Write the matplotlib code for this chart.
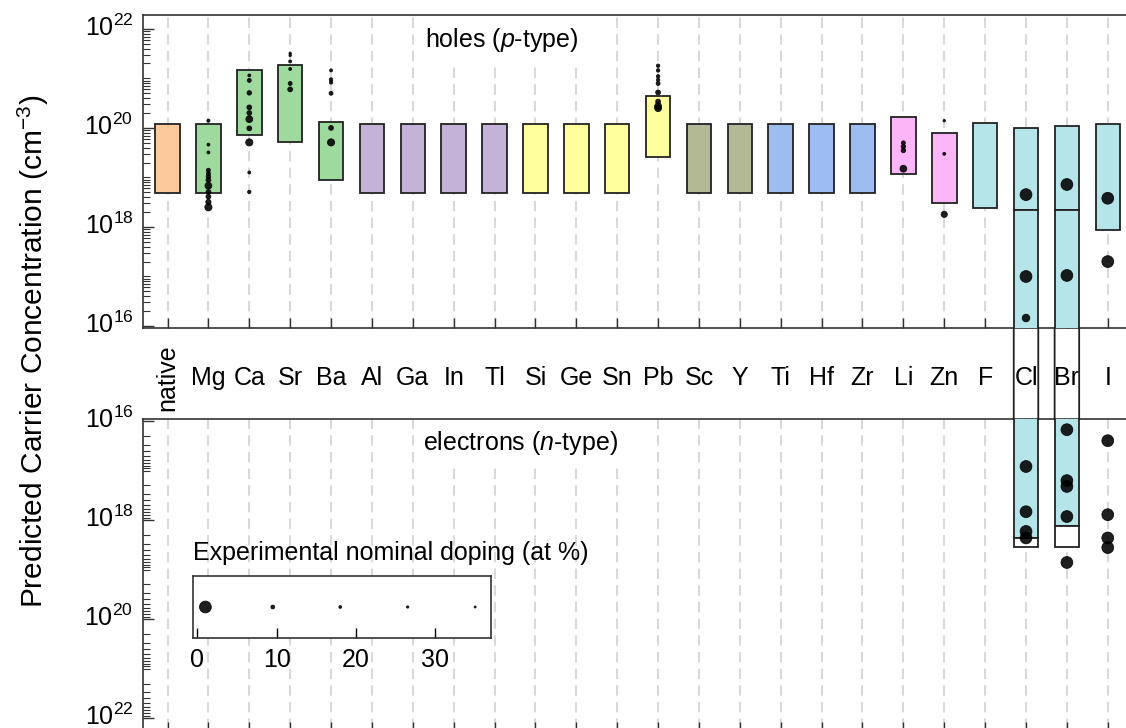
import numpy as np
import matplotlib.pyplot as plt
from matplotlib.patches import ConnectionPatch
from matplotlib.ticker import LogLocator, NullFormatter
from matplotlib.transforms import ScaledTranslation

plt.rcParams['font.family'] = ['Liberation Sans', 'DejaVu Sans']
plt.rcParams['mathtext.fontset'] = 'custom'
plt.rcParams['mathtext.rm'] = 'Liberation Sans'
plt.rcParams['mathtext.it'] = 'Liberation Sans:italic'

# predicted windows (p-type, cm^-3)
dopants = ['native', 'Mg', 'Ca', 'Sr', 'Ba', 'Al', 'Ga', 'In', 'Tl', 'Si', 'Ge', 'Sn',
           'Pb', 'Sc', 'Y', 'Ti', 'Hf', 'Zr', 'Li', 'Zn', 'F', 'Cl', 'Br', 'I']
groups = ['native', 'AE', 'AE', 'AE', 'AE', 'G13', 'G13', 'G13', 'G13', 'G14', 'G14', 'G14',
          'G14', 'G3', 'G3', 'G4', 'G4', 'G4', 'LZ', 'LZ', 'X', 'X', 'X', 'X']
p_low = [4.8e18, 4.8e18, 7.1e19, 5.3e19, 8.7e18, 4.8e18, 4.8e18, 4.8e18, 4.8e18, 4.8e18,
         4.8e18, 4.8e18, 2.6e19, 4.8e18, 4.8e18, 4.8e18, 4.8e18, 4.8e18, 1.2e19, 3.1e18,
         2.4e18, 2.2e18, 2.2e18, 8.5e17]
p_high = [1.2e20, 1.2e20, 1.5e21, 1.9e21, 1.3e20, 1.2e20, 1.2e20, 1.2e20, 1.2e20, 1.2e20,
          1.2e20, 1.2e20, 4.4e20, 1.2e20, 1.2e20, 1.2e20, 1.2e20, 1.2e20, 1.66e20, 7.8e19,
          1.24e20, 9.8e19, 1.07e20, 1.18e20]

# windows that run on into n-type
ambi_dopants = ['Cl', 'Br']
ambi_n_fill = [2.3e18, 1.35e18]
ambi_n_box = [3.5e18, 3.5e18]

# experimental reports
exp_p_dopant = (['Mg'] * 12 + ['Ca'] * 10 + ['Sr'] * 6 + ['Ba'] * 6 + ['Pb'] * 9
                + ['Li'] * 4 + ['Zn'] * 3 + ['Cl'] * 3 + ['Br'] * 2 + ['I'] * 2)
exp_p_conc = [1.4e20, 4.6e19, 3.2e19, 1.4e19, 1.2e19, 1.05e19, 8.9e18, 6.8e18, 5.1e18, 4.1e18, 3.2e18, 2.5e18,
              1.15e21, 9.1e20, 5.1e20, 2.6e20, 2.0e20, 1.5e20, 9.8e19, 5.1e19, 1.26e19, 5.1e18,
              3.2e21, 2.9e21, 2.2e21, 1.55e21, 7.9e20, 6.0e20,
              1.45e21, 9.5e20, 8.3e20, 5.0e20, 1.0e20, 5.1e19,
              1.8e21, 1.45e21, 1.1e21, 9.3e20, 7.9e20, 5.2e20, 3.4e20, 2.75e20, 2.5e20,
              5.0e19, 4.2e19, 3.5e19, 1.5e19,
              1.4e20, 3.0e19, 1.8e18,
              4.5e18, 1.0e17, 1.45e16,
              7.2e18, 1.05e17,
              3.8e18, 2.0e17]
exp_p_doping = [14, 16, 16, 9, 9, 7, 6, 3, 6, 6, 5, 2.7,
                16, 9, 7, 6, 6, 3, 6, 2.7, 16, 12,
                24, 24, 16, 16, 9, 6,
                16, 12, 12, 9, 6, 2.7,
                12, 12, 12, 12, 9, 6, 6, 3, 3,
                9, 7, 7, 3,
                24, 16, 3.6,
                1, 1, 2.4,
                1, 1,
                1, 1]

exp_n_dopant = ['Cl'] * 4 + ['Br'] * 5 + ['I'] * 4
exp_n_conc = [8.3e16, 6.8e17, 1.7e18, 2.3e18,
              1.5e16, 1.6e17, 2.1e17, 8.5e17, 7.2e18,
              2.5e16, 7.8e17, 2.3e18, 3.6e18]
exp_n_doping = [1, 1, 1, 1, 1, 1, 1, 1, 1, 1, 1, 1, 1]

legend_doping = [1, 9.5, 18, 26.5, 35]

group_colors = {'native': '#fbc99b', 'AE': '#9ed99e', 'G13': '#c4b2d8', 'G14': '#ffff9e',
                'G3': '#b3b995', 'G4': '#9dbdf0', 'LZ': '#fcb5f7', 'X': '#b5e4e9'}
EDGE = '#222222'
GRID = '#d9d9d9'
FS = 18
BW = 0.6


def dot_size(doping):
    return 72.0 / np.asarray(doping, dtype=float)


def dots(ax, xs, ys, doping, **kw):
    ax.scatter(xs, ys, s=dot_size(doping), color='black', edgecolors='black',
               alpha=0.88, linewidths=0.6, **kw)


W, H = 1126, 728
fig = plt.figure(figsize=(W / 100, H / 100), dpi=100)
ax_p = fig.add_axes([143 / W, 1 - 328 / H, (1132.3 - 143) / W, 313 / H])
ax_n = fig.add_axes([143 / W, 1 - 732 / H, (1132.3 - 143) / W, 313 / H])

x = np.arange(len(dopants))
colors = [group_colors[g] for g in groups]

for ax in (ax_p, ax_n):
    ax.set_yscale('log')
    ax.set_xlim(-0.6, len(dopants) - 0.4)
    ax.set_yticks([1e16, 1e18, 1e20, 1e22],
                  ['$\\mathregular{10^{16}}$', '$\\mathregular{10^{18}}$',
                   '$\\mathregular{10^{20}}$', '$\\mathregular{10^{22}}$'])
    ax.yaxis.set_minor_locator(LogLocator(base=10, subs=np.arange(1, 10), numticks=100))
    ax.yaxis.set_minor_formatter(NullFormatter())
    ax.tick_params(axis='y', which='major', direction='in', length=8, width=1.0,
                   labelsize=FS, pad=7, color='#333333')
    ax.tick_params(axis='y', which='minor', direction='in', length=5, width=0.8, color='#333333')
    ax.tick_params(axis='x', direction='in', length=7, width=1.0, color='#333333')
    ax.set_xticks(x)
    for s in ax.spines.values():
        s.set_color('#333333')
        s.set_linewidth(1.2)
    ax.spines['right'].set_visible(False)

ax_p.set_ylim(10 ** 15.96, 10 ** 22.28)
ax_n.set_ylim(10 ** 22.28, 10 ** 15.96)

# keep the "10" of each label level with its tick
for ax in (ax_p, ax_n):
    for lab in ax.get_yticklabels():
        lab.set_transform(lab.get_transform() + ScaledTranslation(0, 0.04, fig.dpi_scale_trans))

ax_p.set_xticklabels(dopants, fontsize=FS)
ax_p.tick_params(axis='x', pad=36)
for lab in ax_p.get_xticklabels():
    lab.set_va('center')
    if lab.get_text() == 'native':
        lab.set_rotation(90)
ax_n.set_xticklabels([])

# predicted p-type windows
ax_p.bar(x, np.array(p_high) - np.array(p_low), bottom=p_low, width=BW, color=colors,
         edgecolor=EDGE, linewidth=1.3, zorder=3)

# windows crossing over to n-type
for d, nf, nb in zip(ambi_dopants, ambi_n_fill, ambi_n_box):
    i = dopants.index(d)
    c = colors[i]
    ax_p.bar(i, p_low[i] - 1e10, bottom=1e10, width=BW, color=c, edgecolor=EDGE,
             linewidth=1.3, zorder=3)
    ax_n.bar(i, nf - 1e10, bottom=1e10, width=BW, color=c, edgecolor=EDGE,
             linewidth=1.3, zorder=3)
    ax_n.bar(i, nb - nf, bottom=nf, width=BW, color='white', edgecolor=EDGE,
             linewidth=1.3, zorder=3)
    for xe in (i - BW / 2, i + BW / 2):
        con = ConnectionPatch(xyA=(xe, ax_p.get_ylim()[0]), coordsA=ax_p.transData,
                              xyB=(xe, ax_n.get_ylim()[1]), coordsB=ax_n.transData,
                              color=EDGE, linewidth=1.3, zorder=6)
        fig.add_artist(con)

# experimental points
xp = [dopants.index(d) for d in exp_p_dopant]
dots(ax_p, xp, exp_p_conc, exp_p_doping, zorder=5)
xn = [dopants.index(d) for d in exp_n_dopant]
dots(ax_n, xn, exp_n_conc, exp_n_doping, zorder=5, clip_on=False)

t_p = ax_p.text(6.3, 0.92, 'holes ($\\mathit{p}$-type)', transform=ax_p.get_xaxis_transform(),
                fontsize=FS, ha='left', va='center')
t_n = ax_n.text(6.25, 0.923, 'electrons ($\\mathit{n}$-type)', transform=ax_n.get_xaxis_transform(),
                fontsize=FS, ha='left', va='center')

fig.text(33 / W, 1 - 351 / H, 'Predicted Carrier Concentration (cm$^{\\mathregular{-3}}$)',
         rotation=90, ha='center', va='center', fontsize=21.5)

# dashed guide lines, broken under the panel labels
fig.canvas.draw()
for ax, t in ((ax_p, t_p), (ax_n, t_n)):
    bb = t.get_window_extent()
    ycut = ax.transAxes.inverted().transform((0, bb.y0 - 10))[1]
    for i in x:
        xd = ax.transData.transform((i, 1e18))[0]
        top = ycut if bb.x0 - 2 <= xd <= bb.x1 + 2 else 1
        ax.plot([i, i], [0, top], transform=ax.get_xaxis_transform(), color=GRID,
                linewidth=1.5, linestyle=(0, (5, 3)), zorder=1)

# size key
ax_leg = fig.add_axes([192.7 / W, 1 - 638.3 / H, 298.3 / W, 62.6 / H])
dots(ax_leg, legend_doping, np.zeros(len(legend_doping)), legend_doping)
ax_leg.set_xlim(-0.6, 37)
ax_leg.set_ylim(-1, 1)
ax_leg.set_xticks([0, 10, 20, 30])
ax_leg.set_yticks([])
ax_leg.tick_params(axis='x', direction='in', length=7, width=1.0, labelsize=FS, pad=7)
for s in ax_leg.spines.values():
    s.set_color('#333333')
    s.set_linewidth(1.2)
ax_leg.text(0, 1.37, 'Experimental nominal doping (at %)', transform=ax_leg.transAxes,
            fontsize=FS, ha='left', va='center')

fig.savefig('out.png', dpi=100)
